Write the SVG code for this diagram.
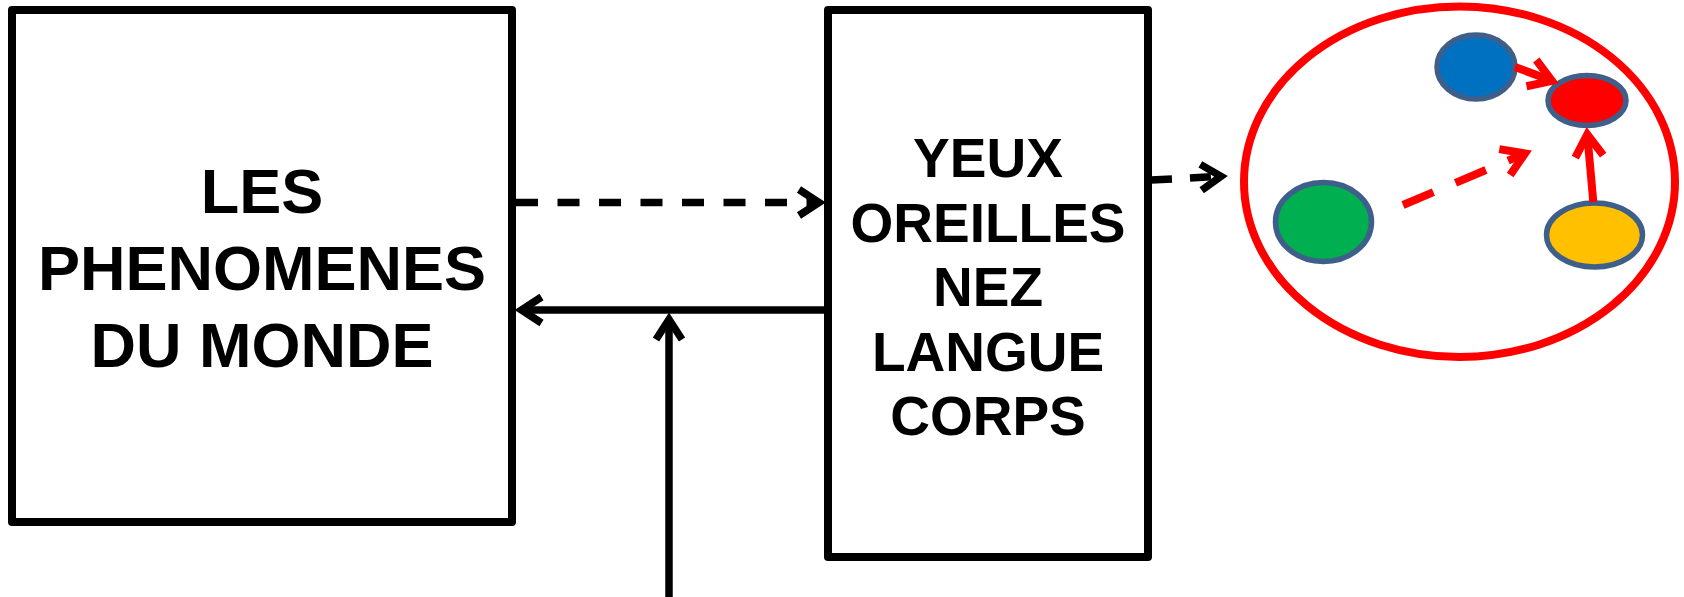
<svg xmlns="http://www.w3.org/2000/svg" width="1684" height="597" viewBox="0 0 1684 597">
  <style>
    .box { fill: #ffffff; stroke: #000000; stroke-width: 8; stroke-linejoin: round; }
    .label { font-family: "Liberation Sans", Arial, sans-serif; font-weight: bold; fill: #000000; text-anchor: middle; }
    .big { font-size: 63px; }
    .mid { font-size: 55px; }
    .link { fill: none; stroke: #000000; stroke-width: 7.5; }
    .dash-k { stroke-dasharray: 22 19.5; }
    .dash-k2 { stroke-dasharray: 21 18; }
    .rlink { fill: none; stroke: #ff0000; stroke-width: 8; }
    .dash-r { stroke-dasharray: 33 24; }
    .bubble { stroke: #3f5f8b; stroke-width: 5.5; }
  </style>
  <defs>
    <marker id="chev-k" markerUnits="userSpaceOnUse" markerWidth="40" markerHeight="40" refX="0" refY="0" orient="auto" overflow="visible">
      <path d="M -20 -13 L 0 0 L -20 13" fill="none" stroke="#000000" stroke-width="7.5" stroke-linejoin="miter"/>
    </marker>
    <marker id="chev-r" markerUnits="userSpaceOnUse" markerWidth="40" markerHeight="40" refX="0" refY="0" orient="auto" overflow="visible">
      <path d="M -22 -14 L 0 0 L -22 14" fill="none" stroke="#ff0000" stroke-width="8" stroke-linejoin="miter"/>
    </marker>
  </defs>

  <!-- world phenomena -->
  <g id="node-monde">
    <rect class="box" x="12" y="10" width="500" height="512"/>
    <text class="label big" x="262" y="213">LES</text>
    <text class="label big" x="262" y="290">PHENOMENES</text>
    <text class="label big" x="262" y="367">DU MONDE</text>
  </g>

  <!-- sense organs -->
  <g id="node-sens">
    <rect class="box" x="828" y="10" width="320" height="547"/>
    <text class="label mid" x="988" y="177">YEUX</text>
    <text class="label mid" x="988" y="241.5">OREILLES</text>
    <text class="label mid" x="988" y="306">NEZ</text>
    <text class="label mid" x="988" y="370.5">LANGUE</text>
    <text class="label mid" x="988" y="435">CORPS</text>
  </g>

  <!-- mind: cluster of linked ideas -->
  <g id="node-esprit">
    <ellipse cx="1459.5" cy="181.7" rx="215.5" ry="175.3" fill="#ffffff" stroke="#ff0000" stroke-width="8"/>
    <ellipse id="idee-bleue" class="bubble" cx="1476" cy="67" rx="39" ry="32" fill="#0070c0"/>
    <ellipse id="idee-rouge" class="bubble" cx="1587" cy="100.5" rx="39" ry="25" fill="#ff0000"/>
    <ellipse id="idee-verte" class="bubble" cx="1323.5" cy="222" rx="48" ry="39.5" fill="#00b050"/>
    <ellipse id="idee-jaune" class="bubble" cx="1594.5" cy="235" rx="48" ry="32" fill="#ffc000"/>
  </g>

  <g id="connectors">
    <!-- world to senses -->
    <line class="link dash-k" x1="516" y1="202.5" x2="819" y2="202.5" marker-end="url(#chev-k)"/>
    <!-- senses back to world -->
    <line class="link" x1="828" y1="310" x2="521.5" y2="310" marker-end="url(#chev-k)"/>
    <!-- action from below -->
    <line class="link" x1="669" y1="597" x2="669" y2="319.5" marker-end="url(#chev-k)"/>
    <!-- senses to mind -->
    <line class="link dash-k2" x1="1151" y1="180" x2="1221" y2="176.3" marker-end="url(#chev-k)"/>
    <!-- links between ideas -->
    <line class="rlink" x1="1515" y1="67" x2="1552" y2="80.8" marker-end="url(#chev-r)"/>
    <line class="rlink" x1="1593.3" y1="202" x2="1587.3" y2="134.5" marker-end="url(#chev-r)"/>
    <line class="rlink dash-r" x1="1403" y1="205" x2="1525" y2="153.5" marker-end="url(#chev-r)"/>
  </g>
</svg>
